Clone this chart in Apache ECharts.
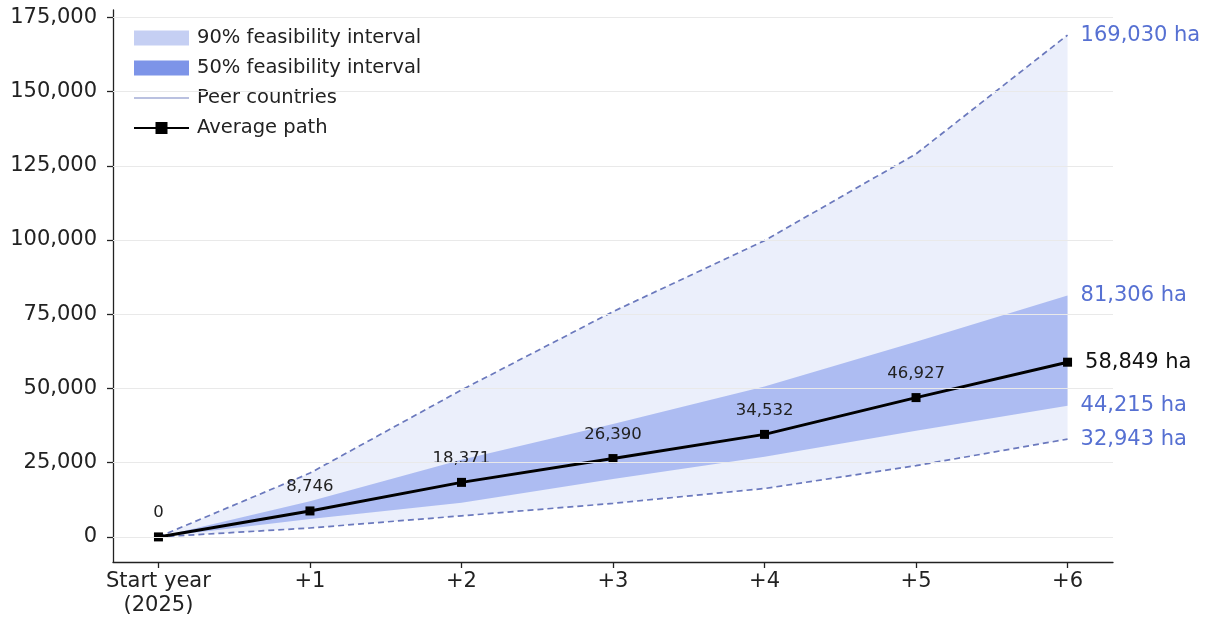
<!DOCTYPE html>
<html>
<head>
<meta charset="utf-8">
<script src="https://cdn.jsdelivr.net/npm/echarts@6/dist/echarts.min.js"></script>
<style>
html, body { margin: 0; padding: 0; background: #fff; }
#chart { width: 1215px; height: 628px; }
</style>
</head>
<body>
<div id="chart"></div>
<script>
// Years since start
const steps = ['Start year\n(2025)', '+1', '+2', '+3', '+4', '+5', '+6'];
// Cumulative hectares
const averagePath = [0, 8746, 18371, 26390, 34532, 46927, 58849];
const p50Low = [0, 6000, 11500, 19500, 27000, 35800, 44215];
const p50High = [0, 12000, 26000, 38000, 50700, 65700, 81306];
const peerLow = [0, 3000, 7100, 11300, 16300, 24000, 32943];
const peerHigh = [0, 21500, 49500, 75900, 99800, 129000, 169030];
const yTicks = [0, 25000, 50000, 75000, 100000, 125000, 150000, 175000];
const xTicks = [0, 1, 2, 3, 4, 5, 6];

const FONT = 'DejaVu Sans';
const fmt = v => Math.round(v).toLocaleString('en-US');
const pts = arr => arr.map((v, i) => [i, v]);

const topVal = Math.max(...peerHigh);
const yMin = -0.05 * topVal;
const yMax = topVal * 1.05;

const blueText = '#5670d2';
const dashColor = '#6b79bd';

// Label at the right end of a line: "<value> ha"
const endLabel = color => ({
  show: true,
  distance: 13,
  fontFamily: FONT,
  fontSize: 21,
  color: color,
  formatter: p => fmt(p.value[1]) + ' ha'
});

// Filled band between two value arrays, projected through the axes
function bandSeries(name, lo, hi, fill, z) {
  return {
    type: 'custom',
    name: name,
    data: [[0, 0]],
    z: z,
    silent: true,
    itemStyle: { color: fill },
    renderItem: (params, api) => {
      const upper = hi.map((v, i) => api.coord([i, v]));
      const lower = lo.map((v, i) => api.coord([i, v])).reverse();
      return {
        type: 'polygon',
        shape: { points: upper.concat(lower) },
        style: { fill: fill, stroke: null }
      };
    }
  };
}

const chart = echarts.init(document.getElementById('chart'), null, { renderer: 'canvas' });

chart.setOption({
  animation: false,
  backgroundColor: '#fff',
  textStyle: { fontFamily: FONT },
  grid: { left: 113, right: 102, top: 10, bottom: 66, containLabel: false },
  legend: {
    orient: 'vertical',
    left: 121,
    top: 19,
    padding: [9, 12, 9, 12],
    backgroundColor: 'rgba(255,255,255,0.85)',
    itemWidth: 55,
    itemHeight: 15,
    itemGap: 10,
    textStyle: { fontFamily: FONT, fontSize: 19.5, color: '#222', lineHeight: 20, padding: [0, 0, 0, 3] },
    data: [
      { name: '90% feasibility interval', icon: 'rect', itemStyle: { color: '#c5cff3', opacity: 1 } },
      { name: '50% feasibility interval', icon: 'rect', itemStyle: { color: '#7d94e8', opacity: 1 } },
      { name: 'Peer countries', lineStyle: { type: 'solid', width: 1.5, color: '#a3acd6' }, itemStyle: { opacity: 0 } },
      { name: 'Average path' }
    ]
  },
  xAxis: {
    type: 'value',
    min: -0.3,
    max: 6.3,
    axisLine: { show: true, onZero: false, lineStyle: { color: '#222', width: 1.3 } },
    axisTick: { show: true, length: 6, customValues: xTicks, lineStyle: { color: '#222', width: 1.3 } },
    axisLabel: {
      customValues: xTicks,
      formatter: v => steps[Math.round(v)],
      fontFamily: FONT,
      fontSize: 21,
      lineHeight: 24,
      color: '#222',
      margin: 8
    },
    splitLine: { show: false }
  },
  yAxis: {
    type: 'value',
    min: yMin,
    max: yMax,
    axisLine: { show: true, onZero: false, lineStyle: { color: '#222', width: 1.3 } },
    axisTick: { show: true, length: 6, customValues: yTicks, lineStyle: { color: '#222', width: 1.3 } },
    axisLabel: {
      customValues: yTicks,
      formatter: v => fmt(v),
      fontFamily: FONT,
      fontSize: 21,
      color: '#222',
      margin: 16
    },
    splitLine: { show: false }
  },
  series: [
    {
      // horizontal gridlines at tick values
      type: 'line',
      name: 'grid',
      data: [],
      z: 0,
      silent: true,
      markLine: {
        silent: true,
        symbol: 'none',
        label: { show: false },
        lineStyle: { color: '#e9e9e9', width: 1.2, type: 'solid' },
        data: yTicks.map(v => ({ yAxis: v }))
      }
    },
    bandSeries('90% feasibility interval', peerLow, peerHigh, 'rgba(110,140,230,0.14)', 1),
    bandSeries('50% feasibility interval', p50Low, p50High, 'rgba(98,126,230,0.45)', 2),
    {
      // edges of the 50% interval, carrying the end labels
      type: 'line',
      name: 'p75',
      data: pts(p50High),
      symbol: 'none',
      lineStyle: { opacity: 0 },
      endLabel: endLabel(blueText),
      silent: true,
      z: 2
    },
    {
      type: 'line',
      name: 'p25',
      data: pts(p50Low),
      symbol: 'none',
      lineStyle: { opacity: 0 },
      endLabel: endLabel(blueText),
      silent: true,
      z: 2
    },
    {
      type: 'line',
      name: 'Peer countries',
      data: pts(peerHigh),
      symbol: 'none',
      itemStyle: { color: dashColor },
      lineStyle: { color: dashColor, width: 1.7, type: [6, 4] },
      endLabel: endLabel(blueText),
      z: 3
    },
    {
      type: 'line',
      name: 'Peer countries',
      data: pts(peerLow),
      symbol: 'none',
      itemStyle: { color: dashColor },
      lineStyle: { color: dashColor, width: 1.7, type: [6, 4] },
      endLabel: endLabel(blueText),
      z: 3
    },
    {
      type: 'line',
      name: 'Average path',
      data: pts(averagePath).map((p, i, a) => i === a.length - 1
        ? { value: p, label: { position: 'right', distance: 13, fontSize: 21, color: '#111', formatter: q => fmt(q.value[1]) + ' ha' } }
        : p),
      symbol: 'rect',
      symbolSize: 9,
      itemStyle: { color: '#000' },
      lineStyle: { color: '#000', width: 3 },
      label: {
        show: true,
        position: 'top',
        distance: 11,
        fontFamily: FONT,
        fontSize: 16.5,
        color: '#222',
        formatter: p => fmt(p.value[1])
      },
      z: 4
    }
  ]
});
</script>
</body>
</html>
